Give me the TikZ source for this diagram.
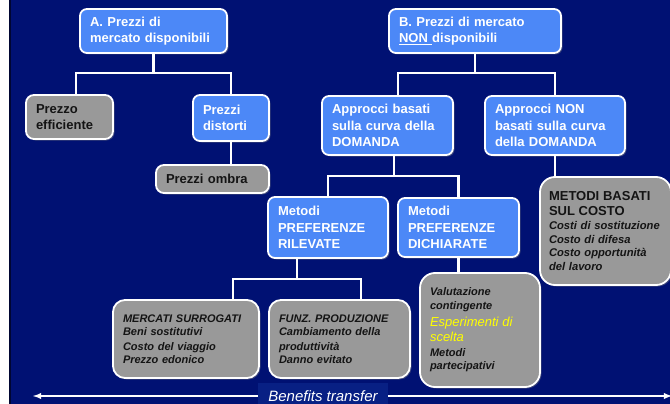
\documentclass[tikz,border=0pt]{standalone}
\usepackage{fontspec}
\setmainfont{Liberation Sans}
\usepackage{xcolor}
\usetikzlibrary{arrows,
	shadows}
\definecolor{navy}{RGB}{0,17,115}
\definecolor{navyedge}{RGB}{0,6,50}
\definecolor{navylight}{RGB}{8,32,132}
\definecolor{boxblue}{RGB}{76,136,247}
\definecolor{boxgray}{RGB}{153,153,153}
\definecolor{txtdark}{RGB}{20,20,20}
\definecolor{hilite}{RGB}{255,255,0}

\begin{document}
\begin{tikzpicture}[x=1pt, y=-1pt,
	box/.style={draw=white, line width=1.8pt, outer sep=0pt, anchor=north west, align=left, inner xsep=10pt, inner ysep=2pt, drop shadow={opacity=0.45, shadow xshift=1.5pt, shadow yshift=-1.5pt}},
	blu/.style={box, fill=boxblue, text=white, rounded corners=7pt, font=\fontsize{13}{16.5}\selectfont\bfseries},
	gry/.style={box, fill=boxgray, text=txtdark, rounded corners=8pt, font=\fontsize{13}{16}\selectfont\bfseries},
	gryit/.style={gry, rounded corners=12pt, font=\fontsize{11}{13}\selectfont\bfseries\itshape},
	link/.style={draw=white, line width=2.2pt}]
	\clip (0, 0) rectangle (670, 404);
	\fill[white] (0, 0) rectangle (9, 404);
	\fill[navyedge] (9, 0) rectangle (11, 404);
	\fill[navy] (11, 0) rectangle (670, 404);

	\node[blu, minimum width=147, minimum height=44, text width=127pt] (mktA) at (80, 9) {A. Prezzi di\\mercato disponibili};
	\node[blu, minimum width=172, minimum height=44, text width=152pt] (mktB) at (389, 9) {B. Prezzi di mercato\\\underline{NON\ }disponibili};
	\node[gry, minimum width=87, minimum height=44, text width=67pt] (eff) at (26, 95) {Prezzo\\efficiente};
	\node[blu, minimum width=76, minimum height=46, text width=56pt] (dist) at (193, 95) {Prezzi\\distorti};
	\node[gry, minimum width=113, minimum height=28, text width=93pt] (ombra) at (156, 165) {Prezzi ombra};
	\node[blu, minimum width=131, minimum height=59, text width=111pt] (dom) at (322, 96) {Approcci basati\\sulla curva della\\DOMANDA};
	\node[blu, minimum width=140, minimum height=59, text width=120pt] (nodom) at (485, 96) {Approcci NON\\basati sulla curva\\della DOMANDA};
	\node[blu, minimum width=120, minimum height=61, text width=100pt] (ril) at (268, 197) {Metodi\\PREFERENZE\\RILEVATE};
	\node[blu, minimum width=121, minimum height=59, text width=101pt] (dich) at (398, 198) {Metodi\\PREFERENZE\\DICHIARATE};
	\node[gryit, rounded corners=15pt, minimum width=129, minimum height=108, text width=113pt, inner xsep=9pt, font=\fontsize{11.2}{13.5}\selectfont\bfseries\itshape] (costo) at (540, 177) {{\upshape\fontsize{13}{15}\selectfont METODI BASATI\\[1.5pt]SUL COSTO}\\[0.5pt]Costi di sostituzione\\Costo di difesa\\Costo opportunità\\del lavoro};
	\node[gryit, minimum width=146, minimum height=78, text width=126pt] (surr) at (113, 300) {MERCATI SURROGATI\\Beni sostitutivi\\[2pt]Costo del viaggio\\Prezzo edonico};
	\node[gryit, minimum width=141, minimum height=78, text width=121pt] (funz) at (269, 300) {FUNZ. PRODUZIONE\\Cambiamento della\\[2pt]produttività\\Danno evitato};
	\node[gryit, rounded corners=15pt, minimum width=120, minimum height=114, text width=100pt, font=\fontsize{11}{14}\selectfont\bfseries\itshape] (valut) at (420, 273) {Valutazione\\contingente\\[2pt]{\mdseries\color{hilite}\fontsize{13}{15}\selectfont Esperimenti di\\[1pt]scelta}\\[1pt]Metodi\\[-1pt]partecipativi};

	\draw[link] (mktA.south) -- ++(0, 20) coordinate (aJ);
	\draw[link] ([xshift=6.5]eff.north) |- (aJ) -| (dist.north);
	\draw[link] (dist.south) -- (dist.south |- ombra.north);
	\draw[link] (mktB.south) -- ++(0, 20) coordinate (bJ);
	\draw[link] ([xshift=10.5]dom.north) |- (bJ) -| (nodom.north);
	\draw[link] ([xshift=6.5]dom.south) -- ++(0, 21) coordinate (dJ);
	\draw[link] (ril.north) |- (dJ) -| (dich.north);
	\draw[link] (nodom.south) -- (nodom.south |- costo.north);
	\draw[link] ([xshift=-31]ril.south) -- ++(0, 21) coordinate (rJ);
	\draw[link] ([xshift=47]surr.north) |- (rJ) -| ([xshift=21.5]funz.north);
	\draw[link] (dich.south) -- (dich.south |- valut.north);

	\coordinate (bL) at (33, 396);
	\coordinate (bR) at (672, 396);
	\node[fill=navylight, text=white, anchor=north, minimum width=130, minimum height=26, inner sep=0pt, font=\fontsize{15}{18}\selectfont\itshape] (bnf) at (323, 383) {Benefits transfer};
	\draw[link, line width=1.8pt, -latex] (bnf.west |- bL) -- (bL);
	\draw[link, line width=1.8pt, -latex] (bnf.east |- bR) -- (bR);
\end{tikzpicture}
\end{document}
